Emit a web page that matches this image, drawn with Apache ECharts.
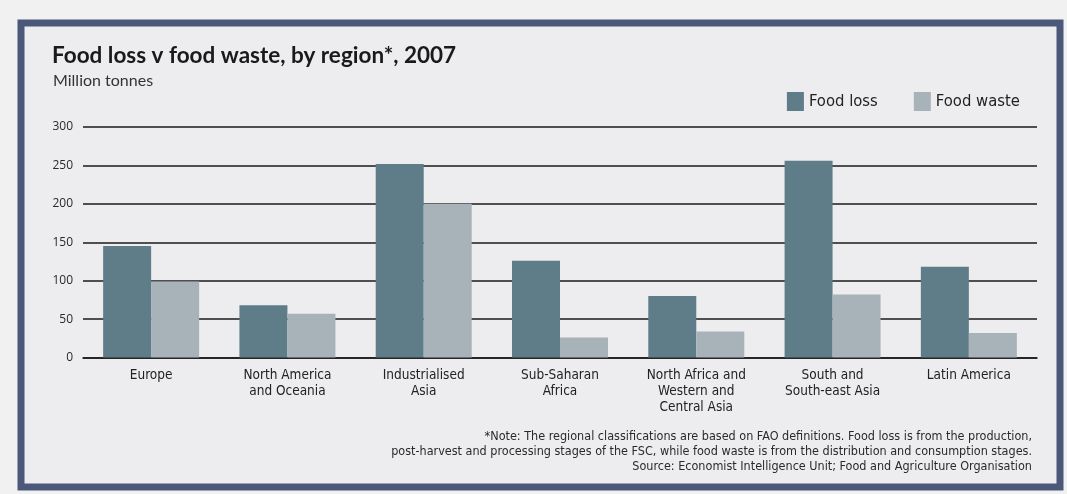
<!DOCTYPE html>
<html>
<head>
<meta charset="utf-8">
<script src="https://cdn.jsdelivr.net/npm/echarts@6/dist/echarts.min.js"></script>
<style>
  html, body { margin: 0; padding: 0; background: #f1f1f1; }
  #chart { width: 1067px; height: 494px; }
</style>
</head>
<body>
<div id="chart"></div>
<script>
// Regions and values (million tonnes, 2007)
const regions = [
  'Europe',
  'North America\nand Oceania',
  'Industrialised\nAsia',
  'Sub-Saharan\nAfrica',
  'North Africa and\nWestern and\nCentral Asia',
  'South and\nSouth-east Asia',
  'Latin America'
];
const foodLoss  = [145, 68, 252, 126, 80, 256, 118];
const foodWaste = [99, 57, 200, 26, 34, 82, 32];
const yTicks = [0, 50, 100, 150, 200, 250, 300];

const noteLines = [
  '*Note: The regional classifications are based on FAO definitions. Food loss is from the production,',
  'post-harvest and processing stages of the FSC, while food waste is from the distribution and consumption stages.',
  'Source: Economist Intelligence Unit; Food and Agriculture Organisation'
];

const narrow = '"Liberation Sans Narrow", "DejaVu Sans Condensed", "Roboto", sans-serif';
const lossColor = '#5f7d89';
const wasteColor = '#a8b2b9';

const chart = echarts.init(document.getElementById('chart'), null, { renderer: 'canvas' });

// Footnote lines, each right-aligned against the frame's inner edge
const noteGraphics = noteLines.map((line, i) => ({
  type: 'text',
  right: 35, top: 430 + i * 15,
  style: { text: line, fill: '#2a2a2a', font: '12.5px ' + narrow }
}));

chart.setOption({
  backgroundColor: '#f1f1f1',
  animation: false,
  graphic: [
    {
      type: 'rect',
      z: -100,
      shape: { x: 21, y: 23, width: 1039, height: 464 },
      style: { fill: '#ededef', stroke: '#4b5879', lineWidth: 7 }
    },
    {
      type: 'text',
      left: 52, top: 44,
      style: { text: 'Food loss v food waste, by region*, 2007', fill: '#1a1a1a',
               font: 'bold 22.5px "Lato", "Open Sans", sans-serif' }
    },
    {
      type: 'text',
      left: 53, top: 73,
      style: { text: 'Million tonnes', fill: '#333', font: '16px "Lato", "Open Sans", sans-serif' }
    }
  ].concat(noteGraphics),
  legend: {
    right: 42, top: 87,
    itemWidth: 17, itemHeight: 19, itemGap: 36,
    icon: 'rect',
    textStyle: { fontFamily: narrow, fontSize: 16.5, color: '#222' },
    data: ['Food loss', 'Food waste']
  },
  grid: { left: 83, right: 30, top: 127, bottom: 136.5 },
  xAxis: {
    type: 'category',
    data: regions,
    axisTick: { show: false },
    axisLine: { lineStyle: { color: '#1a1a1a', width: 1.5 } },
    axisLabel: { fontFamily: narrow, fontSize: 13.5, color: '#222', lineHeight: 16, margin: 10 }
  },
  yAxis: {
    type: 'value',
    min: 0, max: 300, interval: 50,
    axisLabel: {
      fontFamily: '"Open Sans", sans-serif', fontSize: 12, color: '#2a2a2a', margin: 10,
      formatter: v => (yTicks.includes(v) ? String(v) : '')
    },
    axisLine: { show: false },
    axisTick: { show: false },
    splitLine: { lineStyle: { color: '#1a1a1a', width: 1.5 } }
  },
  series: [
    {
      name: 'Food loss', type: 'bar', data: foodLoss,
      barWidth: 48, barGap: '0%',
      itemStyle: { color: lossColor }
    },
    {
      name: 'Food waste', type: 'bar', data: foodWaste,
      barWidth: 48, barGap: '0%',
      itemStyle: { color: wasteColor }
    }
  ]
});
</script>
</body>
</html>
